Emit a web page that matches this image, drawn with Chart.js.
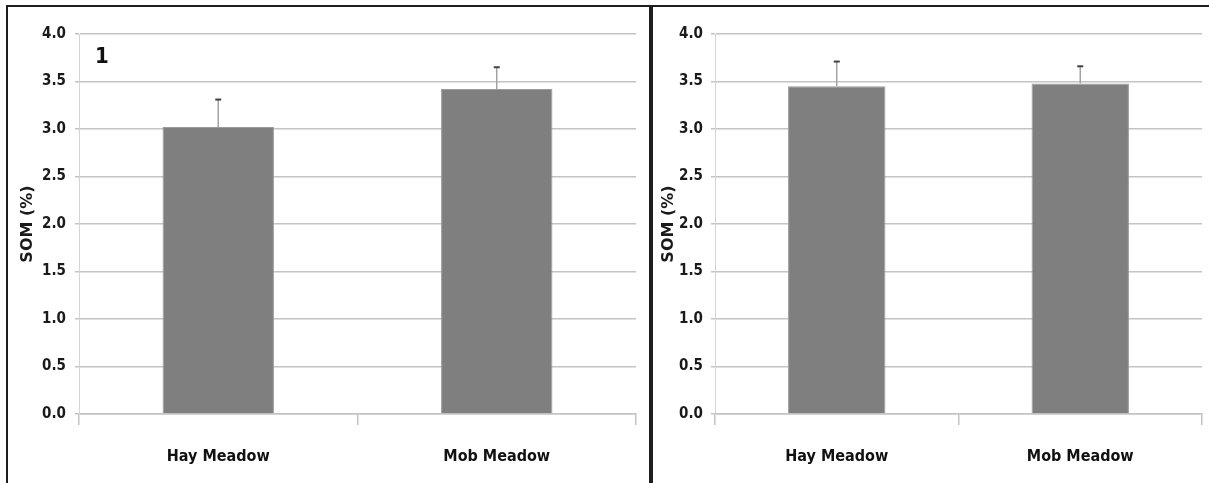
<!DOCTYPE html>
<html>
<head>
<meta charset="utf-8">
<script src="https://cdn.jsdelivr.net/npm/chart.js@4/dist/chart.umd.min.js"></script>
<style>
  body { margin: 0; background: #fff; width: 1209px; height: 483px; overflow: hidden; position: relative; }
  .box { position: absolute; border: 2px solid #1e1e1e; box-sizing: border-box; }
  #box1 { left: 6px; top: 5px; width: 645px; height: 520px; }
  #box2 { left: 651px; top: 5px; width: 600px; height: 520px; }
  canvas { position: absolute; }
  #c1 { left: 8px; top: 7px; }
  #c2 { left: 653px; top: 7px; }
</style>
</head>
<body>
<div class="box" id="box1"></div>
<div class="box" id="box2"></div>
<canvas id="c1" width="641" height="476"></canvas>
<canvas id="c2" width="556" height="476"></canvas>
<script>
// Data
const categories = ["Hay Meadow", "Mob Meadow"];
const panel1Means = [3.02, 3.42];
const panel1Errors = [0.29, 0.23];
const panel2Means = [3.45, 3.48];
const panel2Errors = [0.26, 0.18];
const yMin = 0, yMax = 4, yStep = 0.5;
const yTitle = "SOM (%)";
const panel1Tag = "1";

const narrow = "'DejaVu Sans Condensed', 'Liberation Sans', sans-serif";
const gridColor = "#c4c4c4";

// draws the upper whisker of each error bar
const errorBars = {
    id: "errorBars",
    afterDatasetsDraw(chart, args, opts) {
        const ctx = chart.ctx;
        const meta = chart.getDatasetMeta(0);
        const y = chart.scales.y;
        opts.errors.forEach(function (err, i) {
            const mean = chart.data.datasets[0].data[i];
            const x = meta.data[i].x;
            const yTop = y.getPixelForValue(mean + err);
            const yBase = y.getPixelForValue(mean);
            ctx.save();
            ctx.strokeStyle = "#a3a3a3";
            ctx.lineWidth = 1.5;
            ctx.beginPath();
            ctx.moveTo(x, yBase);
            ctx.lineTo(x, yTop);
            ctx.stroke();
            ctx.strokeStyle = "#404040";
            ctx.lineWidth = 2;
            ctx.beginPath();
            ctx.moveTo(x - 3, yTop);
            ctx.lineTo(x + 3, yTop);
            ctx.stroke();
            ctx.restore();
        });
    }
};

// panel number in the top left corner
const panelTag = {
    id: "panelTag",
    afterDraw(chart, args, opts) {
        if (!opts.text) return;
        const ctx = chart.ctx;
        ctx.save();
        ctx.font = "bold 22px " + narrow;
        ctx.fillStyle = "#111";
        ctx.textAlign = "center";
        ctx.textBaseline = "middle";
        ctx.fillText(opts.text, chart.chartArea.left + 23, chart.chartArea.top + 23);
        ctx.restore();
    }
};

function makeChart(id, means, errors, yWidth, rightPad, titlePad, tickPad, tag) {
    return new Chart(document.getElementById(id), {
        type: "bar",
        data: {
            labels: categories,
            datasets: [{
                data: means,
                backgroundColor: "#7f7f7f",
                borderColor: "#9b9b9b",
                borderWidth: 1,
                categoryPercentage: 0.4,
                barPercentage: 1.0
            }]
        },
        options: {
            responsive: false,
            animation: false,
            layout: { padding: { left: 0, right: rightPad, top: 27, bottom: 0 } },
            plugins: {
                legend: { display: false },
                tooltip: { enabled: false },
                errorBars: { errors: errors },
                panelTag: { text: tag }
            },
            scales: {
                x: {
                    grid: { display: true, drawOnChartArea: false, color: gridColor, lineWidth: 1.5, tickLength: 11 },
                    border: { display: true, color: gridColor, width: 1.5 },
                    ticks: { color: "#111", padding: 22, font: { family: narrow, size: 16, weight: "bold" } },
                    afterFit(scale) { scale.height = 69; }
                },
                y: {
                    min: yMin,
                    max: yMax,
                    ticks: {
                        stepSize: yStep,
                        color: "#1a1a1a",
                        padding: tickPad,
                        font: { family: narrow, size: 15, weight: "bold" },
                        callback: function (v) { return v.toFixed(1); }
                    },
                    grid: { color: gridColor, lineWidth: 1.5, tickLength: 4 },
                    border: { display: true, color: "#d4d4d4", width: 1 },
                    title: {
                        display: true,
                        text: yTitle,
                        color: "#1a1a1a",
                        padding: { top: titlePad, bottom: 0 },
                        font: { family: "'DejaVu Sans', sans-serif", size: 16, weight: "bold" }
                    },
                    afterFit(scale) { scale.width = yWidth; }
                }
            }
        },
        plugins: [errorBars, panelTag]
    });
}

makeChart("c1", panel1Means, panel1Errors, 71, 13, 10, 9, panel1Tag);
makeChart("c2", panel2Means, panel2Errors, 62, 7, 6, 8, "");
</script>
</body>
</html>
